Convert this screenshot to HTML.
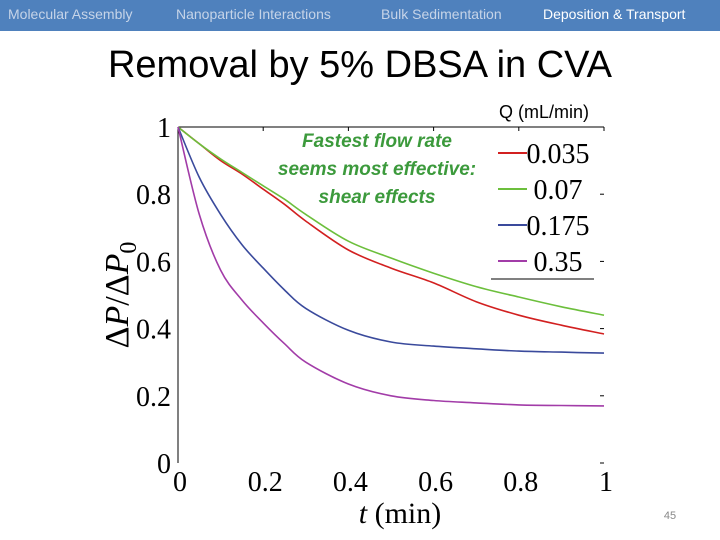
<!DOCTYPE html>
<html><head><meta charset="utf-8"><style>
body{margin:0;width:720px;height:540px;background:#fff;overflow:hidden;position:relative;font-family:"Liberation Sans",sans-serif}
.nav{position:absolute;top:0;left:0;width:720px;height:31px;background:#4f81bd}
.nav span{position:absolute;top:6px;font-size:14px;color:#c6d4e8;font-family:"Liberation Sans Narrow","Liberation Sans",sans-serif}
h1{position:absolute;top:44px;left:0;width:720px;text-align:center;margin:0;font-weight:normal;font-size:38px;color:#000;font-family:"Liberation Sans Narrow","Liberation Sans",sans-serif}
</style></head><body>
<div class="nav">
<span style="left:8px">Molecular Assembly</span>
<span style="left:176px">Nanoparticle Interactions</span>
<span style="left:381px">Bulk Sedimentation</span>
<span style="left:543px;color:#fff">Deposition &amp; Transport</span>
</div>
<h1>Removal by 5% DBSA in CVA</h1>
<svg id="chart" width="720" height="540" style="position:absolute;top:0;left:0"></svg>
<script>
const tVals=[0,0.05,0.1,0.15,0.2,0.25,0.3,0.4,0.5,0.6,0.7,0.8,0.9,1];
const redVals=[1,0.95,0.9,0.86,0.815,0.77,0.72,0.634,0.58,0.536,0.48,0.44,0.41,0.384];
const greenVals=[1,0.95,0.905,0.865,0.825,0.785,0.74,0.66,0.61,0.565,0.525,0.494,0.465,0.44];
const blueVals=[1,0.85,0.74,0.65,0.58,0.515,0.46,0.395,0.36,0.348,0.34,0.333,0.33,0.327];
const purpleVals=[1,0.74,0.574,0.485,0.417,0.355,0.30,0.235,0.2,0.186,0.179,0.173,0.171,0.17];
const xTicks=[0,0.2,0.4,0.6,0.8,1];
const xTickLabels=["0","0.2","0.4","0.6","0.8","1"];
const yTicks=[0,0.2,0.4,0.6,0.8,1];
const yTickLabels=["0","0.2","0.4","0.6","0.8","1"];
const seriesNames=["0.035","0.07","0.175","0.35"];
const seriesColors=["#d22020","#6cbf3c","#3a4a9c","#a23ca8"];
const svg=document.getElementById('chart');
const NS='http://www.w3.org/2000/svg';
const X=v=>178+v*426, Y=v=>463-v*336;
function mk(t,a,txt){const e=document.createElementNS(NS,t);for(const k in a)e.setAttribute(k,a[k]);if(txt!==undefined)e.textContent=txt;svg.appendChild(e);return e;}
function smooth(p){let d='M'+p[0][0].toFixed(1)+','+p[0][1].toFixed(1);
 for(let i=0;i<p.length-1;i++){const p0=p[Math.max(0,i-1)],p1=p[i],p2=p[i+1],p3=p[Math.min(p.length-1,i+2)];
  const c1=[p1[0]+(p2[0]-p0[0])/6,p1[1]+(p2[1]-p0[1])/6],c2=[p2[0]-(p3[0]-p1[0])/6,p2[1]-(p3[1]-p1[1])/6];
  d+=' C'+c1.map(v=>v.toFixed(1)).join(',')+' '+c2.map(v=>v.toFixed(1)).join(',')+' '+p2[0].toFixed(1)+','+p2[1].toFixed(1);}
 return d;}
let e=mk('line',{x1:X(0),y1:Y(1),x2:X(0),y2:Y(0),stroke:'#000','stroke-width':1});

e=mk('line',{x1:X(0),y1:Y(1),x2:X(1),y2:Y(1),stroke:'#000','stroke-width':1});

xTicks.forEach((v,i)=>{
 e=mk('line',{x1:X(v),y1:Y(1),x2:X(v),y2:Y(1)+4,stroke:'#000'});
 
 e=mk('text',{x:X(v)+2,y:491,'text-anchor':'middle','font-family':'Liberation Serif,serif','font-size':28},xTickLabels[i]);
 
});
yTicks.forEach((v,i)=>{
 e=mk('line',{x1:X(1)-4,y1:Y(v),x2:X(1),y2:Y(v),stroke:'#000'});
 
 e=mk('text',{x:171,y:Y(v)+10,'text-anchor':'end','font-family':'Liberation Serif,serif','font-size':28},yTickLabels[i]);
 
});
e=mk('text',{x:400,y:523,'text-anchor':'middle','font-family':'Liberation Serif,serif','font-size':30});
e.innerHTML='<tspan font-style="italic">t</tspan> (min)';

e=mk('text',{x:0,y:0,'text-anchor':'middle','font-family':'Liberation Serif,serif','font-size':34,transform:'translate(128,295) rotate(-90)'});
e.innerHTML='Δ<tspan font-style="italic">P</tspan>/Δ<tspan font-style="italic">P</tspan><tspan font-size="24" dy="8">0</tspan>';

[redVals,greenVals,blueVals,purpleVals].forEach((vals,s)=>{
 const pts=tVals.map((t,i)=>[X(t),Y(vals[i])]);
 e=mk('path',{d:smooth(pts),fill:'none',stroke:seriesColors[s],'stroke-width':1.6});
 
 const ly=153+s*36;
 e=mk('line',{x1:498,y1:ly,x2:527,y2:ly,stroke:seriesColors[s],'stroke-width':2});
 
 e=mk('text',{x:558,y:ly+10,'text-anchor':'middle','font-family':'Liberation Serif,serif','font-size':28},seriesNames[s]);
 
});
e=mk('line',{x1:491,y1:279,x2:594,y2:279,stroke:'#000'});

e=mk('text',{x:544,y:118,'text-anchor':'middle','font-size':18},'Q (mL/min)');

["Fastest flow rate","seems most effective:","shear effects"].forEach((s,i)=>{
 e=mk('text',{x:377,y:147+i*28,'text-anchor':'middle','font-size':19,'font-style':'italic','font-weight':'bold',fill:'#3c9a3c'},s);
 
});
e=mk('text',{x:670,y:519,'text-anchor':'middle','font-size':11,fill:'#888'},'45');

</script>
</body></html>
